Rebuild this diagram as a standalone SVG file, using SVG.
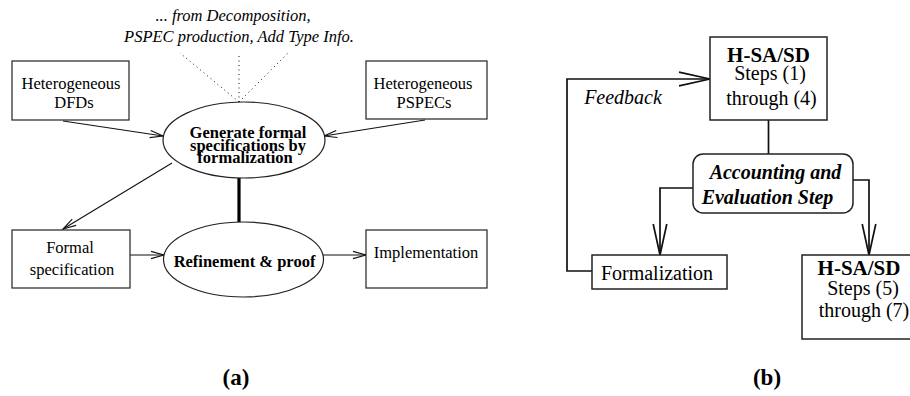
<svg xmlns="http://www.w3.org/2000/svg" width="910" height="396" viewBox="0 0 910 396">
  <style>
    text { font-family: "Liberation Serif", "Times New Roman", serif; fill: #000; }
    .t { font-size: 16.5px; text-anchor: middle; }
    .tb { font-size: 16.5px; font-weight: bold; text-anchor: middle; }
    .ti { font-size: 16.5px; font-style: italic; text-anchor: middle; }
    .u { font-size: 20px; text-anchor: middle; }
    .ub { font-size: 21px; font-weight: bold; text-anchor: middle; }
    .ubi { font-size: 20px; font-weight: bold; font-style: italic; text-anchor: middle; }
    .ui { font-size: 20px; font-style: italic; text-anchor: middle; }
    .cap { font-size: 23px; font-weight: bold; text-anchor: middle; }
    .box { fill: #fff; stroke: #222; stroke-width: 1.2; }
    .boxb { fill: #fff; stroke: #222; stroke-width: 1.5; }
    .line { fill: none; stroke: #111; stroke-width: 1.1; }
    .lineb { fill: none; stroke: #111; stroke-width: 1.7; }
    .dot { fill: none; stroke: #111; stroke-width: 1; stroke-dasharray: 1 3.5; }
  </style>
  <defs>
    <marker id="vs" viewBox="-15 -6 16 12" refX="0" refY="0" markerWidth="16" markerHeight="12" markerUnits="userSpaceOnUse" orient="auto" overflow="visible">
      <path d="M -13 -3.6 L 0 0 L -13 3.6" fill="none" stroke="#111" stroke-width="1.1"/>
    </marker>
    <marker id="vl" viewBox="-33 -8 34 16" refX="0" refY="0" markerWidth="34" markerHeight="16" markerUnits="userSpaceOnUse" orient="auto" overflow="visible">
      <path d="M -31 -6.8 L 0 0 L -31 6.8" fill="none" stroke="#111" stroke-width="1.7"/>
    </marker>
  </defs>

  <rect width="910" height="396" fill="#fff"/>

  <!-- (a) connectors -->
  <g id="connectors-a">
    <line class="dot" x1="239" y1="102" x2="180" y2="53"/>
    <line class="dot" x1="239" y1="102" x2="239" y2="53"/>
    <line class="dot" x1="239" y1="102" x2="289" y2="52"/>
    <line class="line" x1="63" y1="121" x2="163" y2="136" marker-end="url(#vs)"/>
    <line class="line" x1="425" y1="120" x2="324" y2="136" marker-end="url(#vs)"/>
    <line class="line" x1="172" y1="163" x2="63" y2="229" marker-end="url(#vs)"/>
    <line x1="239" y1="178" x2="239" y2="222" stroke="#000" stroke-width="3.2"/>
    <line class="line" x1="130" y1="255" x2="164" y2="255" marker-end="url(#vs)"/>
    <line class="line" x1="323" y1="255" x2="366" y2="255" marker-end="url(#vs)"/>
  </g>

  <!-- (a) nodes -->
  <g id="note-sources">
    <text class="ti" x="233" y="21">... from Decomposition,</text>
    <text class="ti" x="239" y="42">PSPEC production, Add Type Info.</text>
  </g>
  <g id="node-dfds">
    <rect class="box" x="12" y="61" width="117" height="59"/>
    <text class="t" x="71" y="89">Heterogeneous</text>
    <text class="t" x="74" y="108">DFDs</text>
  </g>
  <g id="node-pspecs">
    <rect class="box" x="366" y="61" width="121" height="58"/>
    <text class="t" x="423" y="89">Heterogeneous</text>
    <text class="t" x="424" y="108">PSPECs</text>
  </g>
  <g id="node-generate">
    <ellipse class="box" cx="244" cy="140" rx="81" ry="38"/>
    <text class="tb" x="248" y="138">Generate formal</text>
    <text class="tb" x="248" y="150.5">specifications by</text>
    <text class="tb" x="245" y="163">formalization</text>
  </g>
  <g id="node-formal-spec">
    <rect class="box" x="12" y="230" width="118" height="58"/>
    <text class="t" x="70" y="253">Formal</text>
    <text class="t" x="72" y="275">specification</text>
  </g>
  <g id="node-refinement">
    <ellipse class="box" cx="243.5" cy="259.5" rx="80" ry="37.5"/>
    <text class="tb" x="244.5" y="267">Refinement &amp; proof</text>
  </g>
  <g id="node-implementation">
    <rect class="box" x="366" y="230" width="121" height="58"/>
    <text class="t" x="426" y="258">Implementation</text>
  </g>
  <text class="cap" x="236" y="385">(a)</text>

  <!-- (b) connectors -->
  <g id="connectors-b">
    <polyline class="lineb" points="592,271 567,271 567,79 710,79" marker-end="url(#vl)"/>
    <line class="lineb" x1="768.5" y1="120" x2="768.5" y2="154"/>
    <polyline class="lineb" points="693,188 660,188 660,255" marker-end="url(#vl)"/>
    <polyline class="lineb" points="853,180 869,180 869,255" marker-end="url(#vl)"/>
  </g>
  <text class="ui" x="623" y="104">Feedback</text>

  <!-- (b) nodes -->
  <g id="node-hsasd-1-4">
    <rect class="boxb" x="710" y="37" width="117" height="83"/>
    <text class="ub" x="768.5" y="62">H-SA/SD</text>
    <text class="u" x="770" y="80">Steps (1)</text>
    <text class="u" x="771.5" y="105">through (4)</text>
  </g>
  <g id="node-accounting">
    <rect class="boxb" x="693" y="154" width="160" height="59" rx="10" ry="10"/>
    <text class="ubi" x="775.5" y="179">Accounting and</text>
    <text class="ubi" x="767.5" y="204">Evaluation Step</text>
  </g>
  <g id="node-formalization">
    <rect class="boxb" x="592" y="255" width="135" height="34"/>
    <text class="u" x="657" y="280">Formalization</text>
  </g>
  <g id="node-hsasd-5-7">
    <rect class="boxb" x="802" y="255" width="112" height="84"/>
    <text class="ub" x="859" y="275">H-SA/SD</text>
    <text class="u" x="863" y="295">Steps (5)</text>
    <text class="u" x="864" y="317">through (7)</text>
  </g>
  <text class="cap" x="767" y="385">(b)</text>
</svg>
